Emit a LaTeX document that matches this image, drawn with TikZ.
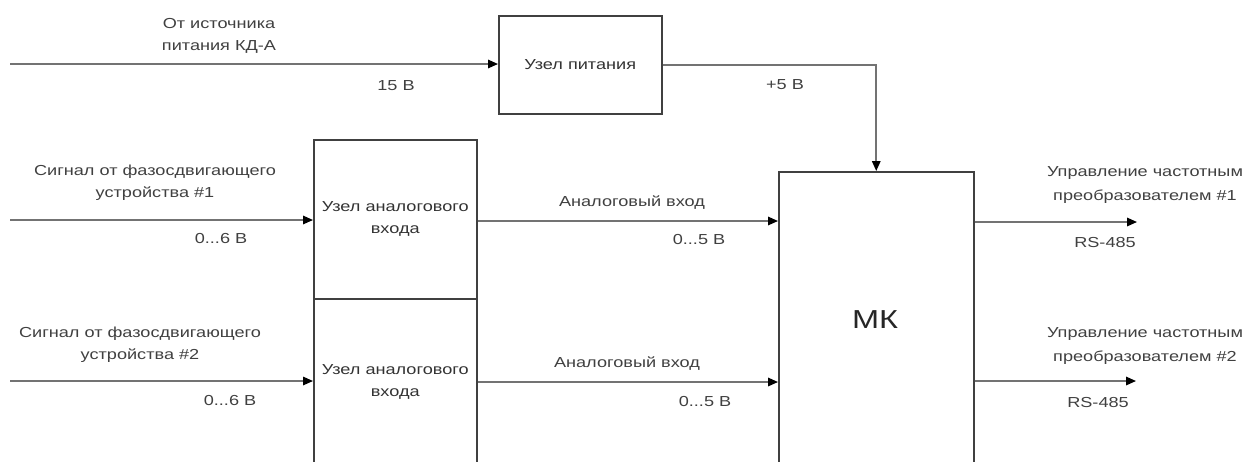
\documentclass[tikz,border=0pt]{standalone}
\usepackage{fontspec}
\setmainfont{Liberation Sans}[FakeStretch=1.25]
\usetikzlibrary{arrows.meta}
\begin{document}
\begin{tikzpicture}[x=1pt,y=-1pt,
  blk/.style={draw=black!75, line width=1.5pt, inner sep=0pt, anchor=north west,
    text=black!80, font=\fontsize{14.5}{22}\selectfont, align=center},
  wire/.style={draw=black!55, line width=1.6pt},
  arr/.style={wire, -{Triangle[length=10pt,width=8.5pt,fill=black,color=black]}},
  lbl/.style={text=black!75, font=\fontsize{14.5}{22}\selectfont, align=center, inner sep=0pt},
  lblw/.style={lbl, font=\fontsize{14.5}{24}\selectfont},
]
\useasboundingbox (0,0) rectangle (1246,461);
\clip (0,0) rectangle (1246,461);

% blocks
\node[blk, minimum width=163pt, minimum height=98pt] (pw) at (498,15) {Узел питания};
\node[blk, minimum width=163pt, minimum height=159pt] (a1) at (313,139) {Узел аналогового\\входа};
\node[blk, minimum width=163pt, minimum height=166pt] (a2) at (313,298) {Узел аналогового\\входа};
\node[blk, minimum width=195pt, minimum height=300pt] (mk) at (778,171) {};
\node[lbl, font=\fontsize{26}{30}\selectfont, text=black!85] (mkt) at (875,320) {МК};

% free ends
\coordinate (pin) at (10,64);
\coordinate (in1) at (10,220);
\coordinate (in2) at (10,381);
\coordinate (q1) at (476,221);
\coordinate (q2) at (476,382);
\coordinate (o1) at (1137,222);
\coordinate (o2) at (1136,381);

% connectors
\draw[arr] (pin) -- (pw.west |- pin);
\draw[arr] (pw.east) -| (mk.north);
\draw[arr] (in1) -- (a1.west |- in1);
\draw[arr] (in2) -- (a2.west |- in2);
\draw[arr] (a1.east |- q1) -- (mk.west |- q1);
\draw[arr] (a2.east |- q2) -- (mk.west |- q2);
\draw[arr] (mk.east |- o1) -- (o1);
\draw[arr] (mk.east |- o2) -- (o2);

% labels
\node[lbl] (l1) at (219,36) {От источника\\питания КД-А};
\node[lbl] (l2) at (396,86) {15 В};
\node[lbl] (l3) at (785,85) {+5 В};
\node[lbl] (l4) at (155,183) {Сигнал от фазосдвигающего\\устройства \#1};
\node[lbl] (l5) at (221,239) {0...6 В};
\node[lbl] (l6) at (140,345) {Сигнал от фазосдвигающего\\устройства \#2};
\node[lbl] (l7) at (230,400) {0...6 В};
\node[lbl] (l8) at (632,203) {Аналоговый вход};
\node[lbl] (l9) at (699,240) {0...5 В};
\node[lbl] (l10) at (627,364) {Аналоговый вход};
\node[lbl] (l11) at (705,401) {0...5 В};
\node[lblw] (l12) at (1145,185) {Управление частотным\\преобразователем \#1};
\node[lbl] (l13) at (1105,243) {RS-485};
\node[lblw] (l14) at (1145,346) {Управление частотным\\преобразователем \#2};
\node[lbl] (l15) at (1098,403) {RS-485};
\end{tikzpicture}
\end{document}
